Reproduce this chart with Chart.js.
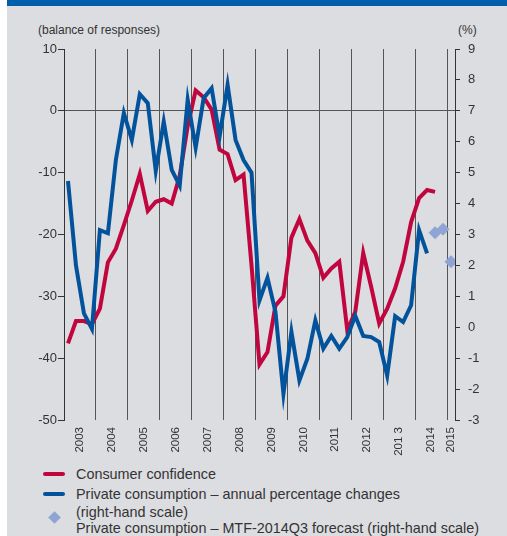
<!DOCTYPE html>
<html>
<head>
<meta charset="utf-8">
<script src="https://cdn.jsdelivr.net/npm/chart.js@4.4.1/dist/chart.umd.min.js"></script>
<style>
  body { margin: 0; background: #fff; font-family: 'Liberation Sans', Arial, sans-serif; color: #333; }
  #panel { position: absolute; left: 7px; top: 0; width: 500px; height: 536px; background: #dcdde0; }
  #band { position: absolute; left: 7px; top: 0; width: 500px; height: 6px; background: #005eab; }
  #wrap { position: absolute; left: 0; top: 0; width: 507px; height: 460px; }
  .note { position: absolute; top: 22px; font-size: 12px; line-height: 16px; white-space: nowrap; }
  .lg { position: absolute; font-size: 14.4px; line-height: 18px; white-space: nowrap; }
  .mk { position: absolute; width: 22px; height: 4px; border-radius: 2px; }
  .dm { position: absolute; width: 9px; height: 9px; background: #8fa3d4; transform: rotate(45deg); }
</style>
</head>
<body>
<div id="panel"></div>
<div id="band"></div>
<div class="note" style="left:38px">(balance of responses)</div>
<div class="note" style="left:458px">(%)</div>
<div id="wrap"><canvas id="chart" width="507" height="460"></canvas></div>

<div class="mk" style="left:43px; top:472px; background:#c1053f"></div>
<div class="lg" style="left:76px; top:465px">Consumer confidence</div>
<div class="mk" style="left:43px; top:492px; background:#03539c"></div>
<div class="lg" style="left:76px; top:485px">Private consumption – annual percentage changes</div>
<div class="lg" style="left:76px; top:503px">(right-hand scale)</div>
<div class="dm" style="left:50px; top:513px"></div>
<div class="lg" style="left:76px; top:519px">Private consumption – MTF-2014Q3 forecast (right-hand scale)</div>

<script>
// quarterly data, 2003Q1 onwards
const years = ['2003', '2004', '2005', '2006', '2007', '2008', '2009', '2010', '2011', '2012', '201 3', '2014', '2015'];

// consumer confidence, balance of responses (left scale)
const confidence = [
  -37.6, -34, -34, -34.5,
  -32, -24.5, -22.3, -18.5,
  -14.5, -10.2, -16.2, -14.7,
  -14.3, -15, -10.5, -2.5,
  3.3, 2.2, 0.2, -6.3,
  -7, -11.2, -10.3, -25,
  -41, -39, -31.5, -30,
  -20.5, -17.5, -21, -23,
  -27, -25.5, -24.4, -35.5,
  -32.5, -23, -28.5, -34.4,
  -32, -28.7, -24.4, -18,
  -14.1, -12.8, -13.1
];

// private consumption, annual % change (right scale)
const consumption = [
  4.73, 2.0, 0.45, -0.05,
  3.14, 3.04, 5.41, 6.93,
  6.06, 7.54, 7.25, 5.06,
  6.65, 5.09, 4.58, 7.36,
  5.81, 7.41, 7.73, 6.17,
  7.84, 6.06, 5.41, 5.0,
  0.87, 1.6, 0.5, -2.15,
  -0.15, -1.72, -1.02, 0.22,
  -0.69, -0.28, -0.69, -0.32,
  0.37, -0.28, -0.32, -0.48,
  -1.56, 0.36, 0.17, 0.71,
  3.14, 2.39
];

// MTF-2014Q3 forecast, from 2014Q3
const forecast = [3.06, 3.17, 2.12];
const forecastStart = 46;

const nSlots = 49;
const toPoints = (arr, start) => arr.map((v, i) => ({ x: start + i + 0.5, y: v }));

const font = { family: "'Liberation Sans', Arial, sans-serif", size: 13 };

new Chart(document.getElementById('chart'), {
  type: 'line',
  data: {
    datasets: [
      {
        label: 'forecast',
        data: toPoints(forecast, forecastStart),
        yAxisID: 'yR',
        showLine: false,
        pointStyle: 'rectRot',
        pointRadius: 6.5,
        pointBackgroundColor: '#8fa3d4',
        pointBorderWidth: 0
      },
      {
        label: 'consumption',
        data: toPoints(consumption, 0),
        yAxisID: 'yR',
        borderColor: '#03539c',
        borderWidth: 4,
        pointRadius: 0,
        tension: 0
      },
      {
        label: 'confidence',
        data: toPoints(confidence, 0),
        yAxisID: 'yL',
        borderColor: '#c1053f',
        borderWidth: 4,
        pointRadius: 0,
        tension: 0
      }
    ]
  },
  options: {
    responsive: false,
    animation: false,
    devicePixelRatio: 1,
    layout: { padding: { top: 49, left: 0, right: 0, bottom: 0 } },
    plugins: { legend: { display: false }, tooltip: { enabled: false } },
    scales: {
      x: {
        type: 'linear',
        min: 0,
        max: nSlots,
        border: { display: false },
        grid: {
          drawTicks: false,
          lineWidth: 1,
          color: (c) => (c.tick && c.tick.value % 4 === 0) ? '#555' : 'rgba(0,0,0,0)'
        },
        ticks: {
          autoSkip: false,
          minRotation: 90,
          maxRotation: 90,
          padding: 7,
          color: '#333',
          font: { family: font.family, size: 11.5 },
          callback: (v) => {
            if (v === 48.5) return years[12];
            if (v % 4 === 2) return years[(v - 2) / 4];
            return '';
          }
        },
        afterBuildTicks: (axis) => {
          const t = [];
          for (let v = 0; v <= 48; v += 2) t.push({ value: v });
          t.push({ value: 48.5 });
          axis.ticks = t;
        },
        afterFit: (axis) => { axis.height = 40; }
      },
      yL: {
        position: 'left',
        min: -50,
        max: 10,
        border: { display: true, color: '#333', width: 1 },
        grid: {
          color: (c) => (c.tick && c.tick.value === 0) ? '#555' : 'rgba(0,0,0,0)',
          tickColor: '#333',
          tickLength: 6
        },
        ticks: { stepSize: 10, padding: 1, color: '#333', font: font },
        afterFit: (axis) => { axis.width = 64; }
      },
      yR: {
        position: 'right',
        min: -3,
        max: 9,
        border: { display: true, color: '#333', width: 1 },
        grid: {
          drawOnChartArea: false,
          tickColor: '#333',
          tickLength: 5
        },
        ticks: { stepSize: 1, padding: 8, color: '#333', font: font },
        afterFit: (axis) => { axis.width = 52; }
      }
    }
  }
});
</script>
</body>
</html>
